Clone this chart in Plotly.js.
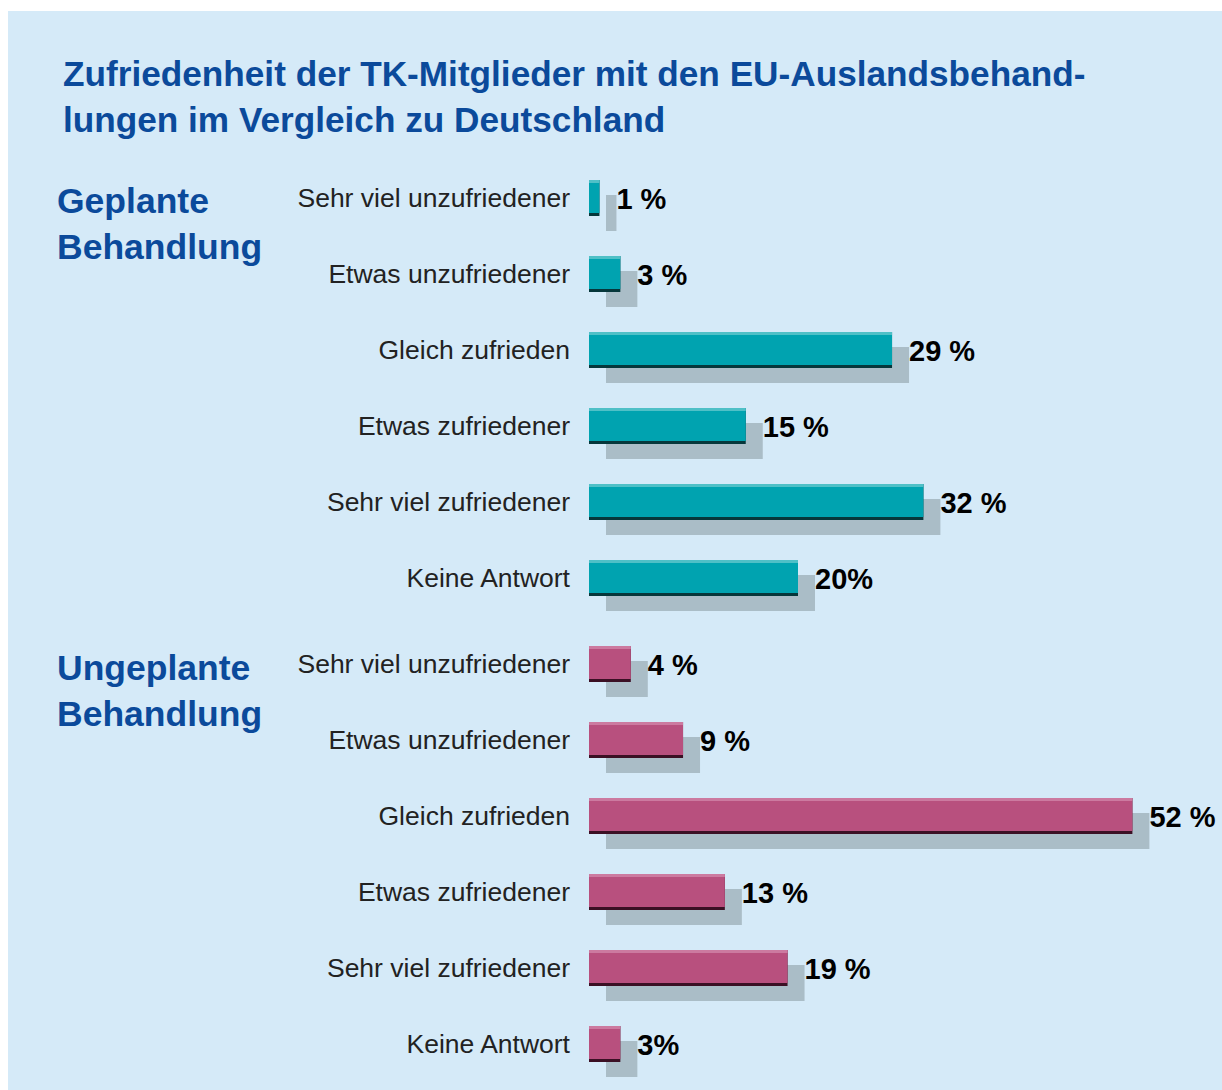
<!DOCTYPE html>
<html>
<head>
<meta charset="utf-8">
<script src="https://cdn.plot.ly/plotly-3.0.1.min.js"></script>
<style>html,body{margin:0;padding:0;background:#fff;}#chart{width:1222px;height:1090px;}</style>
</head>
<body>
<div id="chart"></div>
<script>
// ---- data ----
const categories = ['Sehr viel unzufriedener', 'Etwas unzufriedener', 'Gleich zufrieden', 'Etwas zufriedener', 'Sehr viel zufriedener', 'Keine Antwort'];
const geplant = [1, 3, 29, 15, 32, 20];
const ungeplant = [4, 9, 52, 13, 19, 3];
const geplantLabels = ['1 %', '3 %', '29 %', '15 %', '32 %', '20%'];
const ungeplantLabels = ['4 %', '9 %', '52 %', '13 %', '19 %', '3%'];
const groupNames = ['Geplante<br>Behandlung', 'Ungeplante<br>Behandlung'];
const titleText = 'Zufriedenheit der TK-Mitglieder mit den EU-Auslandsbehand-<br>lungen im Vergleich zu Deutschland';

// ---- geometry / style ----
const W = 1222, H = 1090;
const x0px = 589, pxPerPct = 10.45;
const xEndPx = 1190;
const xMax = (xEndPx - x0px) / pxPerPct;
const rowPx = 76, barPx = 36;
const shadowDx = 17, shadowDy = 15, textDy = 4;
const bw = barPx / rowPx;
const off = -bw / 2;
const groupCenters = [198, 664];
const catRange = [categories.length - 0.5, -0.5];

const styles = [
  {main: '#00a3b0', dark: '#06373b', light: '#4fc0c7', axis: 'y', taxis: 'y3'},
  {main: '#b8507e', dark: '#3b1024', light: '#cc7aa0', axis: 'y2', taxis: 'y4'}
];
const shadowColor = '#aabdc7';

const seriesList = [
  {vals: geplant, labels: geplantLabels},
  {vals: ungeplant, labels: ungeplantLabels}
];

const traces = [];
seriesList.forEach((s, i) => {
  const st = styles[i];
  // shadow (on shifted x axis 'x')
  traces.push({type: 'bar', orientation: 'h', x: s.vals, y: categories, xaxis: 'x', yaxis: st.axis,
    width: bw, offset: off + shadowDy / rowPx, marker: {color: shadowColor, line: {width: 0}},
    hoverinfo: 'skip', showlegend: false});
  // value labels
  traces.push({type: 'scatter', mode: 'text', x: s.vals, y: categories, xaxis: 'x', yaxis: st.taxis,
    text: s.labels, textposition: 'middle right', cliponaxis: false,
    textfont: {family: 'Liberation Sans, Arial, sans-serif', size: 29, color: '#000', weight: 700},
    hoverinfo: 'skip', showlegend: false});
});
seriesList.forEach((s, i) => {
  const st = styles[i];
  // dark bevel (bottom edge)
  traces.push({type: 'bar', orientation: 'h', x: s.vals, y: categories, xaxis: 'x2', yaxis: st.axis,
    width: bw, offset: off, marker: {color: st.dark, line: {width: 0}}, hoverinfo: 'skip', showlegend: false});
  // main face
  traces.push({type: 'bar', orientation: 'h', x: s.vals, y: categories, xaxis: 'x2', yaxis: st.axis,
    width: bw - 3 / rowPx, offset: off, marker: {color: st.main, line: {width: 0}}, hoverinfo: 'skip', showlegend: false});
  // top highlight
  traces.push({type: 'bar', orientation: 'h', x: s.vals, y: categories, xaxis: 'x2', yaxis: st.axis,
    width: 3 / rowPx, offset: off, marker: {color: st.light, line: {width: 0}}, hoverinfo: 'skip', showlegend: false});
});

function yDomain(firstCenterPx, shift) {
  const top = firstCenterPx - rowPx / 2 + (shift || 0);
  const bottom = top + rowPx * categories.length;
  return [(H - bottom) / H, (H - top) / H];
}

const tickFont = {family: 'Liberation Sans, Arial, sans-serif', size: 26.5, color: '#222222'};
const yBase = {type: 'category', range: catRange, autorange: false, categoryorder: 'array', categoryarray: categories,
  showgrid: false, zeroline: false, showline: false,
  ticks: '', ticklabelstandoff: 18, tickfont: tickFont, anchor: 'x2', fixedrange: true};
const yHidden = {type: 'category', range: catRange, autorange: false, categoryorder: 'array', categoryarray: categories,
  visible: false, anchor: 'x', fixedrange: true};

const layout = {
  width: W, height: H,
  margin: {l: 0, r: 0, t: 0, b: 0},
  paper_bgcolor: '#ffffff',
  plot_bgcolor: 'rgba(0,0,0,0)',
  barmode: 'overlay',
  showlegend: false,
  title: {
    text: titleText, x: 63 / W, xanchor: 'left', xref: 'paper',
    y: 1 - 86 / H, yanchor: 'top', yref: 'container',
    font: {family: 'Liberation Sans, Arial, sans-serif', size: 35.2, color: '#0b4a9b', weight: 700}
  },
  xaxis: {domain: [(x0px + shadowDx) / W, (xEndPx + shadowDx) / W], range: [0, xMax], visible: false, fixedrange: true},
  xaxis2: {domain: [x0px / W, xEndPx / W], range: [0, xMax], visible: false, fixedrange: true, anchor: 'y'},
  yaxis: Object.assign({}, yBase, {domain: yDomain(groupCenters[0])}),
  yaxis2: Object.assign({}, yBase, {domain: yDomain(groupCenters[1])}),
  yaxis3: Object.assign({}, yHidden, {domain: yDomain(groupCenters[0], textDy)}),
  yaxis4: Object.assign({}, yHidden, {domain: yDomain(groupCenters[1], textDy)}),
  shapes: [{type: 'rect', xref: 'paper', yref: 'paper', x0: 8 / W, x1: 1, y0: 0, y1: (H - 11) / H,
    fillcolor: '#d5eaf8', line: {width: 0}, layer: 'below'}],
  annotations: groupNames.map((g, i) => ({
    text: g, xref: 'paper', yref: 'paper', x: 55 / W, y: 1 - (i === 0 ? 179 : 646) / H,
    xanchor: 'left', yanchor: 'top', align: 'left', showarrow: false,
    font: {family: 'Liberation Sans, Arial, sans-serif', size: 35.5, color: '#0b4a9b', weight: 700}
  }))
};

Plotly.newPlot('chart', traces, layout, {displayModeBar: false, staticPlot: true});
</script>
</body>
</html>
